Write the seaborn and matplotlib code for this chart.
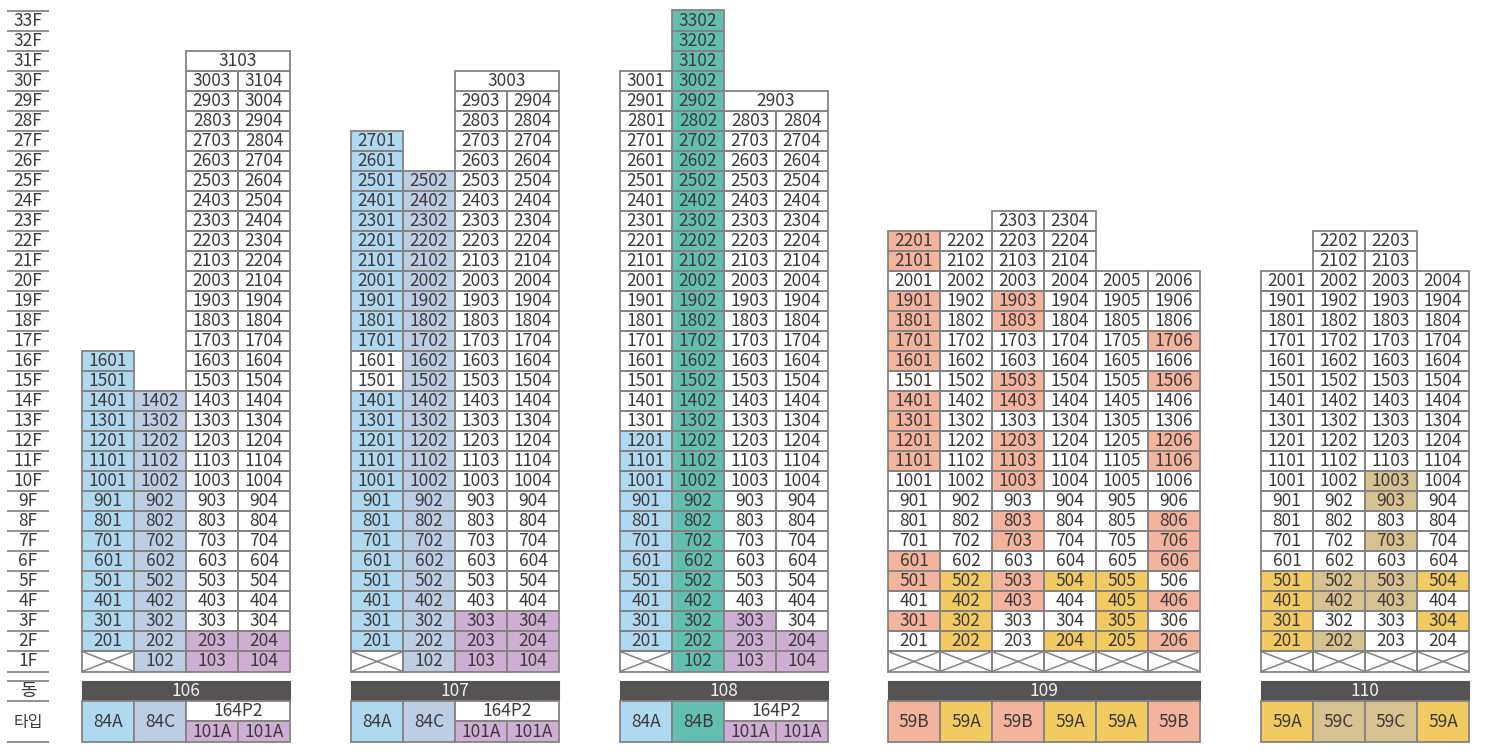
import numpy as np
import pandas as pd
import matplotlib
matplotlib.use("Agg")
import matplotlib.pyplot as plt
from matplotlib.colors import ListedColormap
from matplotlib.patches import Rectangle
import seaborn as sns

# units per column, from 1F upwards ("x" = no unit, crossed cell)
units_106 = [
    "x 201 301 401 501 601 701 801 901 1001 1101 1201 1301 1401 1501 1601",
    "102 202 302 402 502 602 702 802 902 1002 1102 1202 1302 1402",
    "103 203 303 403 503 603 703 803 903 1003 1103 1203 1303 1403 1503 1603 1703 1803 1903 2003 2103 2203 2303 2403 2503 2603 2703 2803 2903 3003",
    "104 204 304 404 504 604 704 804 904 1004 1104 1204 1304 1404 1504 1604 1704 1804 1904 2104 2204 2304 2404 2504 2604 2704 2804 2904 3004 3104",
]
units_107 = [
    "x 201 301 401 501 601 701 801 901 1001 1101 1201 1301 1401 1501 1601 1701 1801 1901 2001 2101 2201 2301 2401 2501 2601 2701",
    "102 202 302 402 502 602 702 802 902 1002 1102 1202 1302 1402 1502 1602 1702 1802 1902 2002 2102 2202 2302 2402 2502",
    "103 203 303 403 503 603 703 803 903 1003 1103 1203 1303 1403 1503 1603 1703 1803 1903 2003 2103 2203 2303 2403 2503 2603 2703 2803 2903",
    "104 204 304 404 504 604 704 804 904 1004 1104 1204 1304 1404 1504 1604 1704 1804 1904 2004 2104 2204 2304 2404 2504 2604 2704 2804 2904",
]
units_108 = [
    "x 201 301 401 501 601 701 801 901 1001 1101 1201 1301 1401 1501 1601 1701 1801 1901 2001 2101 2201 2301 2401 2501 2601 2701 2801 2901 3001",
    "102 202 302 402 502 602 702 802 902 1002 1102 1202 1302 1402 1502 1602 1702 1802 1902 2002 2102 2202 2302 2402 2502 2602 2702 2802 2902 3002 3102 3202 3302",
    "103 203 303 403 503 603 703 803 903 1003 1103 1203 1303 1403 1503 1603 1703 1803 1903 2003 2103 2203 2303 2403 2503 2603 2703 2803",
    "104 204 304 404 504 604 704 804 904 1004 1104 1204 1304 1404 1504 1604 1704 1804 1904 2004 2104 2204 2304 2404 2504 2604 2704 2804",
]
units_109 = [
    "x 201 301 401 501 601 701 801 901 1001 1101 1201 1301 1401 1501 1601 1701 1801 1901 2001 2101 2201",
    "x 202 302 402 502 602 702 802 902 1002 1102 1202 1302 1402 1502 1602 1702 1802 1902 2002 2102 2202",
    "x 203 303 403 503 603 703 803 903 1003 1103 1203 1303 1403 1503 1603 1703 1803 1903 2003 2103 2203 2303",
    "x 204 304 404 504 604 704 804 904 1004 1104 1204 1304 1404 1504 1604 1704 1804 1904 2004 2104 2204 2304",
    "x 205 305 405 505 605 705 805 905 1005 1105 1205 1305 1405 1505 1605 1705 1805 1905 2005",
    "x 206 306 406 506 606 706 806 906 1006 1106 1206 1306 1406 1506 1606 1706 1806 1906 2006",
]
units_110 = [
    "x 201 301 401 501 601 701 801 901 1001 1101 1201 1301 1401 1501 1601 1701 1801 1901 2001",
    "x 202 302 402 502 602 702 802 902 1002 1102 1202 1302 1402 1502 1602 1702 1802 1902 2002 2102 2202",
    "x 203 303 403 503 603 703 803 903 1003 1103 1203 1303 1403 1503 1603 1703 1803 1903 2003 2103 2203",
    "x 204 304 404 504 604 704 804 904 1004 1104 1204 1304 1404 1504 1604 1704 1804 1904 2004",
]

# unit type per floor, same order: w none, a 84A, c 84C, b 84B, p 101A, s 59B, y 59A, t 59C
fill_106 = [
    "waaaaaaaaaaaaaaa",
    "cccccccccccccc",
    "ppwwwwwwwwwwwwwwwwwwwwwwwwwwww",
    "ppwwwwwwwwwwwwwwwwwwwwwwwwwwww",
]
fill_107 = [
    "waaaaaaaaaaaaawwaaaaaaaaaaa",
    "ccccccccccccccccccccccccc",
    "pppwwwwwwwwwwwwwwwwwwwwwwwwww",
    "pppwwwwwwwwwwwwwwwwwwwwwwwwww",
]
fill_108 = [
    "waaaaaaaaaaawwwwwwwwwwwwwwwwww",
    "bbbbbbbbbbbbbbbbbbbbbbbbbbbbbbbbb",
    "pppwwwwwwwwwwwwwwwwwwwwwwwww",
    "ppwwwwwwwwwwwwwwwwwwwwwwwwww",
]
fill_109 = [
    "wwswsswwwwsssswsssswss",
    "wyyyywwwwwwwwwwwwwwwww",
    "wwwsswsswssswsswwsswwww",
    "wywwywwwwwwwwwwwwwwwwww",
    "wyyyywwwwwwwwwwwwwww",
    "wswswssswwsswwswswww",
]
fill_110 = [
    "wyyyywwwwwwwwwwwwwww",
    "wtwttwwwwwwwwwwwwwwwww",
    "wwwttwtwttwwwwwwwwwwww",
    "wwywywwwwwwwwwwwwwww",
]

# cells shared by the two right columns: (floor, label)
merged_106 = (31, "3103")
merged_107 = (30, "3003")
merged_108 = (29, "2903")

dong_names = ["106", "107", "108", "109", "110"]
types_106 = ["84A", "84C", "164P2", "101A", "101A"]
types_107 = ["84A", "84C", "164P2", "101A", "101A"]
types_108 = ["84A", "84B", "164P2", "101A", "101A"]
types_109 = ["59B", "59A", "59B", "59A", "59A", "59B"]
types_110 = ["59A", "59C", "59C", "59A"]

floor_names = [f"{n}F" for n in range(33, 0, -1)]

palette = {"w": "#ffffff", "a": "#aed9f0", "c": "#bccde4", "b": "#62bfb0",
           "p": "#cfaed3", "s": "#f3b39c", "y": "#f2ca62", "t": "#d6c190"}
type_fill = {"84A": "a", "84C": "c", "84B": "b", "101A": "p", "164P2": "w",
             "59B": "s", "59A": "y", "59C": "t"}
codes = list(palette)

# layout, in pixels of the 1508x752 picture
W, H = 1508, 752
GRID_TOP, GRID_BOTTOM = 10.5, 671.5
CELL_W = 52
LEFTS = [82, 351, 620, 888, 1261]
LINE = "#858282"
TEXT = "#3d393a"
FONT = ["Noto Sans CJK KR", "DejaVu Sans"]
SIZE = 12.5

sns.set_theme(style="white")
plt.rcParams["font.family"] = FONT

fig = plt.figure(figsize=(W / 100, H / 100), dpi=100, facecolor="white")
bg = fig.add_axes([0, 0, 1, 1])
bg.set_xlim(0, W)
bg.set_ylim(H, 0)
bg.axis("off")

# floor names on the left
row_h = (GRID_BOTTOM - GRID_TOP) / 33
for i, name in enumerate(floor_names):
    bg.text(28, GRID_TOP + (i + 0.5) * row_h, name, ha="center", va="center",
            fontsize=SIZE, color=TEXT)
bg.hlines(GRID_TOP + row_h * np.arange(34), 7, 49, color="#8a8888", lw=1.3)
bg.hlines([681, 701, 742], 7, 49, color="#8a8888", lw=1.3)
bg.text(28, 691, "동", ha="center", va="center", fontsize=13, color=TEXT)
bg.text(28, 723, "타입", ha="center", va="center", fontsize=11.5, color=TEXT)


def draw_building(left, units, fills, merged):
    n_cols = len(units)
    values = pd.DataFrame(np.nan, index=floor_names, columns=range(n_cols))
    labels = pd.DataFrame("", index=floor_names, columns=range(n_cols))
    for c, (col_units, col_fill) in enumerate(zip(units, fills)):
        for f, (unit, code) in enumerate(zip(col_units.split(), col_fill)):
            row = f"{f + 1}F"
            values.loc[row, c] = codes.index(code)
            labels.loc[row, c] = "" if unit == "x" else unit

    ax = fig.add_axes([left / W, 1 - GRID_BOTTOM / H, n_cols * CELL_W / W,
                       (GRID_BOTTOM - GRID_TOP) / H])
    sns.heatmap(values, mask=values.isna(), annot=labels.values, fmt="",
                cmap=ListedColormap(list(palette.values())), vmin=-0.5, vmax=len(codes) - 0.5,
                linewidths=0, cbar=False, xticklabels=False, yticklabels=False, ax=ax,
                annot_kws={"fontsize": SIZE, "color": TEXT, "family": FONT})
    ax.patch.set_alpha(0)

    # cell outlines only where a unit exists
    for r, c in zip(*np.where(values.notna().values)):
        ax.add_patch(Rectangle((c, r), 1, 1, fc="none", ec=LINE, lw=1.3, clip_on=False))

    # crossed empty cells
    for c, col_units in enumerate(units):
        if col_units.split()[0] == "x":
            ax.plot([c, c + 1, None, c, c + 1], [33, 32, None, 32, 33], color=LINE, lw=1.1,
                    clip_on=False)

    if merged:
        floor, name = merged
        y = 33 - floor
        ax.add_patch(Rectangle((2, y), 2, 1, fc="white", ec=LINE, lw=1.3, clip_on=False))
        ax.text(3, y + 0.5, name, ha="center", va="center", fontsize=SIZE, color=TEXT)


def draw_header(left, name, types):
    split = "164P2" in types
    n_cols = 4 if split else len(types)
    width = n_cols * CELL_W
    bg.add_patch(Rectangle((left, 681), width, 20, fc="#565354", ec="#565354", lw=0.8))
    bg.text(left + width / 2, 691, name, ha="center", va="center", fontsize=SIZE,
            color="#f2f2f2")

    def cell(x, y, w, h, label):
        bg.add_patch(Rectangle((x, y), w, h, fc=palette[type_fill[label]], ec=LINE, lw=1.3))
        bg.text(x + w / 2, y + h / 2 + 0.5, label, ha="center", va="center", fontsize=SIZE,
                color=TEXT)

    if split:
        cell(left, 701, CELL_W, 41, types[0])
        cell(left + CELL_W, 701, CELL_W, 41, types[1])
        cell(left + 2 * CELL_W, 701, 2 * CELL_W, 20, types[2])
        cell(left + 2 * CELL_W, 721, CELL_W, 21, types[3])
        cell(left + 3 * CELL_W, 721, CELL_W, 21, types[4])
    else:
        for c, label in enumerate(types):
            cell(left + c * CELL_W, 701, CELL_W, 41, label)


buildings = [
    (units_106, fill_106, merged_106, types_106),
    (units_107, fill_107, merged_107, types_107),
    (units_108, fill_108, merged_108, types_108),
    (units_109, fill_109, None, types_109),
    (units_110, fill_110, None, types_110),
]
for left, name, (units, fills, merged, types) in zip(LEFTS, dong_names, buildings):
    draw_building(left, units, fills, merged)
    draw_header(left, name, types)

fig.savefig("out.png", dpi=100, facecolor="white")
